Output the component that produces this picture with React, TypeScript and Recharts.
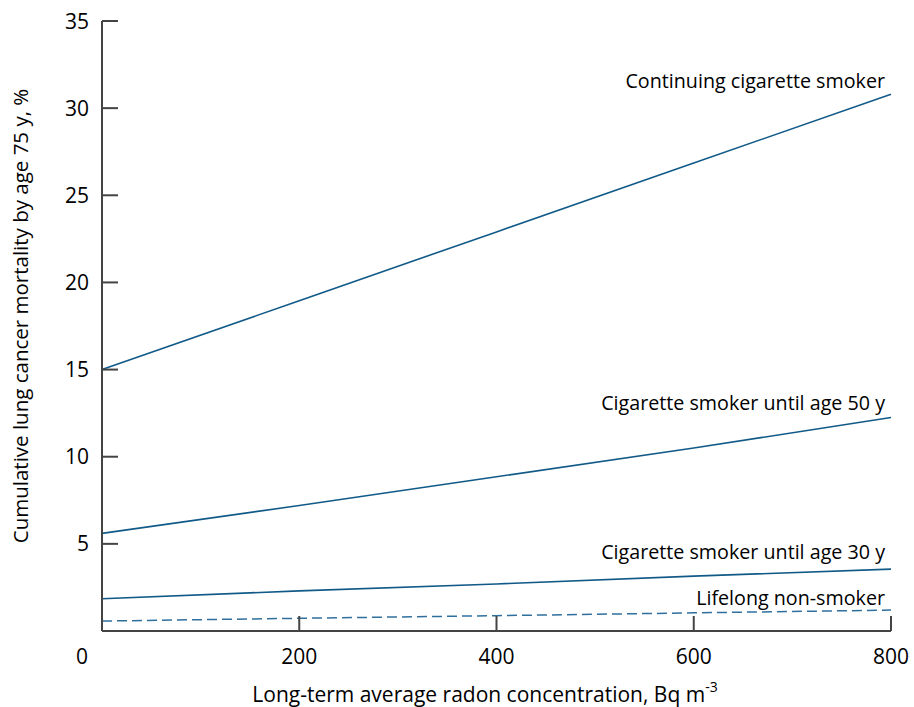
import { LineChart, Line, XAxis, YAxis, Label } from "recharts";

// radon concentration (Bq/m3) and cumulative mortality by age 75 (%)
const radon = [0, 200, 400, 600, 800];
const continuingSmoker = [15.0, 18.95, 22.9, 26.85, 30.8];
const smokerUntil50 = [5.6, 7.2, 8.85, 10.5, 12.25];
const smokerUntil30 = [1.85, 2.3, 2.7, 3.15, 3.55];
const nonSmoker = [0.57, 0.73, 0.88, 1.04, 1.2];

const xTicks = [0, 200, 400, 600, 800];
const yTicks = [5, 10, 15, 20, 25, 30, 35];

const data = radon.map((r, i) => ({
  radon: r,
  continuing: continuingSmoker[i],
  until50: smokerUntil50[i],
  until30: smokerUntil30[i],
  never: nonSmoker[i],
}));

const FONT = "'Open Sans', sans-serif";
const AXIS = "#444";
const LINE = "#115a88";

const lastIndex = radon.length - 1;

const endLabel = (text: string, lift: number) => (p: any) => {
  if (p.index !== lastIndex) return null;
  return (
    <text x={p.x - 6} y={p.y - lift} textAnchor="end" fontSize={19.7} fontFamily={FONT} fill="#000">
      {text}
    </text>
  );
};

const XTick = (p: any) => {
  const v = p.payload.value;
  const x = p.x;
  const axisY = p.y;
  return (
    <g>
      {v !== 0 && <line x1={x} x2={x} y1={axisY} y2={axisY - 15} stroke={AXIS} strokeWidth={2} />}
      <text x={v === 0 ? x - 20 : x} y={axisY + 33} textAnchor="middle" fontSize={21} fontFamily={FONT} fill="#000">
        {v}
      </text>
    </g>
  );
};

const YTick = (p: any) => {
  const v = p.payload.value;
  const axisX = p.x + 13;
  return (
    <g>
      <line x1={axisX} x2={axisX + 16} y1={p.y} y2={p.y} stroke={AXIS} strokeWidth={2} />
      <text x={p.x} y={p.y} dy="0.36em" textAnchor="end" fontSize={21} fontFamily={FONT} fill="#000">
        {v}
      </text>
    </g>
  );
};

export default function App() {
  return (
    <div style={{ position: "absolute", left: 0, top: 0 }}>
      <LineChart width={914} height={707} data={data} margin={{ top: 21, right: 23, bottom: 36, left: 42 }}>
        <XAxis
          dataKey="radon"
          type="number"
          domain={[0, 800]}
          ticks={xTicks}
          tickSize={0}
          tickMargin={0}
          height={40}
          tick={<XTick />}
          stroke={AXIS}
          strokeWidth={2}
        >
          <Label
            content={() => (
              <text x={485} y={702} textAnchor="middle" fontSize={21} fontFamily={FONT} fill="#000">
                Long-term average radon concentration, Bq m
                <tspan dy={-10} fontSize={14}>-3</tspan>
              </text>
            )}
          />
        </XAxis>
        <YAxis
          type="number"
          domain={[0, 35]}
          ticks={yTicks}
          width={60}
          tickSize={0}
          tickMargin={13}
          tick={<YTick />}
          stroke={AXIS}
          strokeWidth={2}
        >
          <Label
            content={() => (
              <text
                x={28}
                y={316}
                transform="rotate(-90 28 316)"
                textAnchor="middle"
                fontSize={20.5}
                fontFamily={FONT}
                fill="#000"
              >
                Cumulative lung cancer mortality by age 75 y, %
              </text>
            )}
          />
        </YAxis>
        <Line dataKey="continuing" stroke={LINE} strokeWidth={1.6} dot={false} isAnimationActive={false}
          label={endLabel("Continuing cigarette smoker", 6)} />
        <Line dataKey="until50" stroke={LINE} strokeWidth={1.6} dot={false} isAnimationActive={false}
          label={endLabel("Cigarette smoker until age 50 y", 8)} />
        <Line dataKey="until30" stroke={LINE} strokeWidth={1.6} dot={false} isAnimationActive={false}
          label={endLabel("Cigarette smoker until age 30 y", 10)} />
        <Line dataKey="never" stroke="#2f6f9e" strokeWidth={1.5} strokeDasharray="10 5" dot={false}
          isAnimationActive={false} label={endLabel("Lifelong non-smoker", 5)} />
      </LineChart>
    </div>
  );
}
